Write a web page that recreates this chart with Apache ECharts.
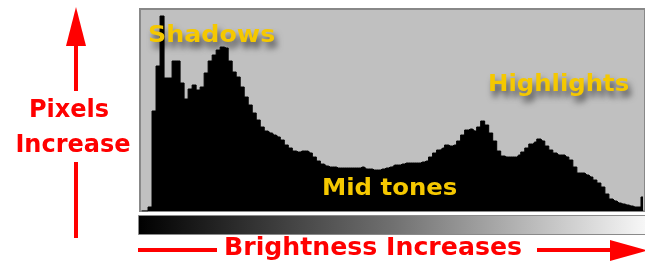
<!DOCTYPE html>
<html>
<head>
<meta charset="utf-8">
<title>Histogram</title>
<script src="https://cdn.jsdelivr.net/npm/echarts@6/dist/echarts.min.js"></script>
<style>
  html, body { margin: 0; padding: 0; background: #fff; }
  #main { width: 645px; height: 266px; }
</style>
</head>
<body>
<div id="main"></div>
<script>
// pixel count per brightness bin, dark on the left, light on the right
var pixelCounts = [
    0, 0, 4, 100, 145, 195, 133, 133, 150, 150,
    128, 112, 122, 126, 121, 124, 138, 150, 156, 161,
    164, 163, 150, 139, 134, 124, 114, 106, 98, 91,
    84, 80, 78, 76, 74, 71, 66, 63, 60, 59,
    60, 60, 58, 54, 50, 47, 45, 44, 44, 43,
    43, 43, 43, 43, 43, 44, 42, 42, 41, 41,
    42, 43, 44, 46, 46, 47, 48, 48, 48, 48,
    49, 50, 54, 58, 61, 63, 66, 65, 66, 70,
    76, 81, 82, 80, 84, 90, 86, 78, 70, 60,
    55, 54, 54, 54, 56, 59, 63, 67, 69, 72,
    70, 65, 61, 58, 56, 56, 54, 51, 44, 38,
    38, 36, 34, 31, 28, 24, 17, 12, 10, 8,
    7, 6, 5, 4, 4, 14
];
var countMax = 202;

var zoneLabels = ['Shadows', 'Mid tones', 'Highlights'];
var axisWords = ['Pixels', 'Increase', 'Brightness Increases'];

// brightness level at the start of each bin (0..255)
var levels = [];
for (var i = 0; i < pixelCounts.length; i++) {
    levels.push(String(Math.round(i * 256 / pixelCounts.length)));
}

initChart();

function initChart() {

    var myChart = echarts.init(document.getElementById('main'), null, { renderer: 'canvas' });

    var red = '#ff0000';
    var gold = '#f5c800';
    var redFont = 'bold 24px "DejaVu Sans"';
    var goldFont = 'bold 23px "DejaVu Sans"';

    function label(text, x, y, align, color, font, scaleX, shadow) {
        var style = {
            text: text,
            fill: color,
            font: font,
            align: align,
            textAlign: align,
            verticalAlign: 'middle',
            textVerticalAlign: 'middle'
        };
        if (shadow) {
            style.textShadowColor = 'rgba(0,0,0,0.6)';
            style.textShadowBlur = 6;
            style.textShadowOffsetX = 3;
            style.textShadowOffsetY = 6;
        }
        return { type: 'text', x: x, y: y, scaleX: scaleX, z: 20, silent: true, style: style };
    }

    function line(x1, y1, x2, y2) {
        return {
            type: 'line', z: 20, silent: true,
            shape: { x1: x1, y1: y1, x2: x2, y2: y2 },
            style: { stroke: red, lineWidth: 4 }
        };
    }

    function head(points) {
        return { type: 'polygon', z: 20, silent: true, shape: { points: points }, style: { fill: red } };
    }

    myChart.setOption({
        animation: false,
        backgroundColor: '#ffffff',
        grid: {
            show: true,
            left: 140,
            right: 0,
            top: 9,
            bottom: 55,
            backgroundColor: '#c0c0c0',
            borderColor: '#888888',
            borderWidth: 2
        },
        xAxis: {
            type: 'category',
            data: levels,
            boundaryGap: true,
            show: false
        },
        yAxis: {
            type: 'value',
            min: 0,
            max: countMax,
            show: false
        },
        series: [
            {
                // stepped area so the bins join without seams
                name: 'pixels',
                type: 'line',
                step: 'middle',
                data: pixelCounts,
                symbol: 'none',
                silent: true,
                lineStyle: { color: '#000000', width: 1 },
                areaStyle: { color: '#000000', opacity: 1 }
            }
        ],
        graphic: [
            // grey ramp under the histogram
            {
                type: 'rect', z: 10, silent: true,
                shape: { x: 138.5, y: 215.5, width: 508, height: 19 },
                style: {
                    fill: new echarts.graphic.LinearGradient(0, 0, 1, 0, [
                        { offset: 0, color: '#000000' },
                        { offset: 0.5, color: '#707070' },
                        { offset: 1, color: '#f8f8f8' }
                    ]),
                    stroke: '#8a8a8a',
                    lineWidth: 1
                }
            },
            // vertical arrow
            head([[76, 7], [66, 46], [86, 46]]),
            line(76, 44, 76, 91),
            line(76, 162, 76, 238),
            label(axisWords[0], 69, 111, 'center', red, redFont, 1.0, false),
            label(axisWords[1], 73, 146, 'center', red, redFont, 1.0, false),
            // horizontal arrow
            line(138, 250, 217, 250),
            line(537, 250, 614, 250),
            head([[610, 240], [610, 261], [648, 250.5]]),
            label(axisWords[2], 224, 249, 'left', red, redFont, 1.05, false),
            // zone names
            label(zoneLabels[0], 148, 36.5, 'left', gold, goldFont, 1.1, true),
            label(zoneLabels[1], 322, 189, 'left', gold, goldFont, 1.06, false),
            label(zoneLabels[2], 488, 85, 'left', gold, goldFont, 1.06, true)
        ]
    });
}
</script>
</body>
</html>
